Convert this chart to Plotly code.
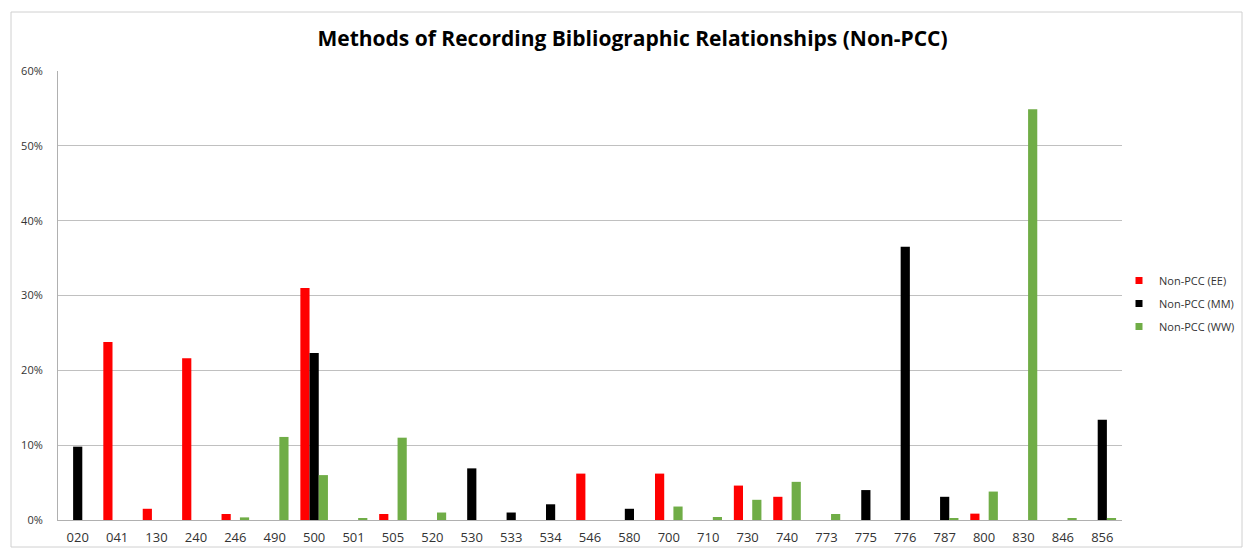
import plotly.graph_objects as go

# MARC fields on the category axis
fields = ["020", "041", "130", "240", "246", "490", "500", "501", "505", "520",
          "530", "533", "534", "546", "580", "700", "710", "730", "740", "773",
          "775", "776", "787", "800", "830", "846", "856"]

# Share of records (%) using each field, per group
ee = [0, 23.8, 1.5, 21.6, 0.8, 0, 31.0, 0, 0.8, 0,
      0, 0, 0, 6.2, 0, 6.2, 0, 4.6, 3.1, 0,
      0, 0, 0, 0.85, 0, 0, 0]
mm = [9.8, 0, 0, 0, 0, 0, 22.3, 0, 0, 0,
      6.9, 1.0, 2.1, 0, 1.5, 0, 0, 0, 0, 0,
      4.0, 36.5, 3.1, 0, 0, 0, 13.4]
ww = [0, 0, 0, 0, 0.35, 11.1, 6.0, 0.2, 11.0, 1.0,
      0, 0, 0, 0, 0, 1.8, 0.4, 2.7, 5.1, 0.8,
      0, 0, 0.2, 3.8, 54.9, 0.2, 0.2]

series = [
    ("Non-PCC (EE)", ee, "#ff0000"),
    ("Non-PCC (MM)", mm, "#000000"),
    ("Non-PCC (WW)", ww, "#70ad47"),
]

fig = go.Figure()
for name, vals, color in series:
    fig.add_trace(go.Bar(
        x=fields, y=[v / 100 for v in vals], name=name,
        marker=dict(color=color, line=dict(width=0)),
        legendgroup=name, showlegend=False,
    ))
# small square legend keys
for name, vals, color in series:
    fig.add_trace(go.Scatter(
        x=[None], y=[None], mode="markers", name=name,
        marker=dict(symbol="square", size=7, color=color),
        legendgroup=name, showlegend=True,
    ))

W, H = 1248, 550
ml, mr, mt, mb = 58, 126, 71, 30
pw, ph = W - ml - mr, H - mt - mb


def px_x(p):
    return (p - ml) / pw


def px_y(p):
    return (H - mb - p) / ph


fig.update_layout(
    width=W, height=H,
    margin=dict(l=ml, r=mr, t=mt, b=mb, pad=0, autoexpand=False),
    paper_bgcolor="white", plot_bgcolor="white",
    barmode="group", bargap=0.3, bargroupgap=0,
    font=dict(family="Open Sans, Liberation Sans, sans-serif", color="#404040"),
    title=dict(
        text="<b>Methods of Recording Bibliographic Relationships (Non-PCC)</b>",
        x=632.5 / W, xref="container", xanchor="center",
        y=1 - 39 / H, yref="container", yanchor="middle",
        font=dict(size=21, color="#000000",
                  family="Open Sans, Liberation Sans, sans-serif"),
    ),
    legend=dict(
        x=px_x(1119), y=px_y(266), xanchor="left", yanchor="top",
        font=dict(size=11, color="#333333"),
        itemwidth=30, tracegroupgap=4,
        bgcolor="rgba(0,0,0,0)",
    ),
    showlegend=True,
    xaxis=dict(
        type="category",
        showline=True, linecolor="#b0b0b0", linewidth=1,
        ticks="", ticklabelstandoff=5,
        tickfont=dict(size=13, color="#333333"),
        showgrid=False,
    ),
    yaxis=dict(
        range=[0, 0.6], dtick=0.1, tickformat=".0%",
        showline=True, linecolor="#b0b0b0", linewidth=1,
        ticks="", ticklabelstandoff=12,
        showgrid=True, gridcolor="#c0c0c0", gridwidth=1,
        zeroline=False,
        tickfont=dict(size=11, color="#333333"),
    ),
    shapes=[dict(
        type="rect", xref="paper", yref="paper",
        x0=px_x(11), x1=px_x(1242), y0=px_y(547), y1=px_y(12),
        line=dict(color="#d0d0d0", width=1), fillcolor="rgba(0,0,0,0)",
        layer="below",
    )],
)

fig.write_html("out.html")
